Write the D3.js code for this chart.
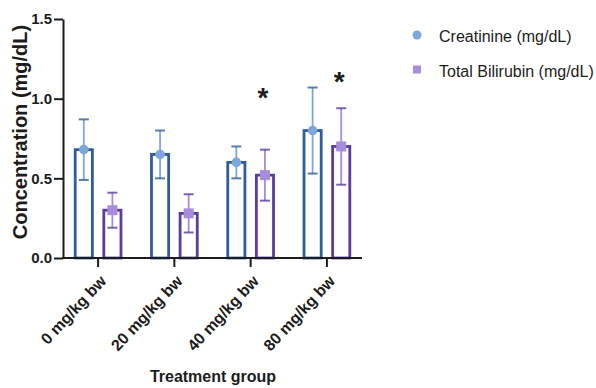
<!DOCTYPE html>
<html>
<head>
<meta charset="utf-8">
<script src="https://cdn.jsdelivr.net/npm/d3@7/dist/d3.min.js"></script>
<style>
  body { margin: 0; background: #fff; }
  svg { font-family: "Liberation Sans", Arial, Helvetica, sans-serif; }
</style>
</head>
<body>
<svg id="chart" width="596" height="388"></svg>
<script>
// data
const groups = ["0 mg/kg bw", "20 mg/kg bw", "40 mg/kg bw", "80 mg/kg bw"];
const seriesNames = ["Creatinine (mg/dL)", "Total Bilirubin (mg/dL)"];
const creatinine = [0.68, 0.65, 0.60, 0.80];
const creatinineLow = [0.49, 0.50, 0.50, 0.53];
const creatinineHigh = [0.87, 0.80, 0.70, 1.07];
const bilirubin = [0.30, 0.28, 0.52, 0.70];
const bilirubinLow = [0.19, 0.16, 0.36, 0.46];
const bilirubinHigh = [0.41, 0.40, 0.68, 0.94];
const starLevel = [null, null, 1.04, 1.14]; // significance marks over bilirubin
const yTicks = [0.0, 0.5, 1.0, 1.5];

const outline = ["#2f5d9b", "#5b3b9b"];
const fillMark = ["#7ea6d8", "#a88bdb"];
const ink = "#1c1c1c";

const svg = d3.select("#chart");
const plot = {left: 63, right: 362, top: 19, bottom: 258};

const x = d3.scaleBand()
    .domain(groups)
    .range([plot.left, plot.right])
    .paddingInner(0.4)
    .paddingOuter(0.16);
const xs = d3.scaleBand()
    .domain([0, 1])
    .range([0, x.bandwidth()])
    .paddingInner(0.4);
const y = d3.scaleLinear().domain([0, 1.5]).range([plot.bottom, plot.top]);

const series = [
    {vals: creatinine, lo: creatinineLow, hi: creatinineHigh},
    {vals: bilirubin, lo: bilirubinLow, hi: bilirubinHigh}
];

const barsG = svg.append("g");
series.forEach((s, si) => {
    groups.forEach((g, i) => {
        const bx = x(g) + xs(si);
        const bw = xs.bandwidth();
        const cx = bx + bw / 2;
        // open bar
        barsG.append("rect")
            .attr("x", bx)
            .attr("y", y(s.vals[i]))
            .attr("width", bw)
            .attr("height", y(0) - y(s.vals[i]))
            .attr("fill", "#fff")
            .attr("stroke", outline[si])
            .attr("stroke-width", 2.8);
        // error bar
        barsG.append("line")
            .attr("x1", cx).attr("x2", cx)
            .attr("y1", y(s.lo[i])).attr("y2", y(s.hi[i]))
            .attr("stroke", fillMark[si]).attr("stroke-width", 1.8);
        [s.lo[i], s.hi[i]].forEach(v => {
            barsG.append("line")
                .attr("x1", cx - 5).attr("x2", cx + 5)
                .attr("y1", y(v)).attr("y2", y(v))
                .attr("stroke", outline[si]).attr("stroke-opacity", 0.8)
                .attr("stroke-width", 2);
        });
        // marker
        if (si === 0) {
            barsG.append("circle")
                .attr("cx", cx).attr("cy", y(s.vals[i])).attr("r", 4.8)
                .attr("fill", fillMark[si]);
        } else {
            barsG.append("rect")
                .attr("x", cx - 5).attr("y", y(s.vals[i]) - 5)
                .attr("width", 10).attr("height", 10)
                .attr("fill", fillMark[si]);
        }
    });
});

// asterisks
groups.forEach((g, i) => {
    if (starLevel[i] == null) return;
    svg.append("text")
        .attr("x", x(g) + xs(1) + xs.bandwidth() / 2 - 2)
        .attr("y", y(starLevel[i]) + 15)
        .attr("text-anchor", "middle")
        .attr("font-size", 28)
        .attr("font-weight", "bold")
        .attr("fill", ink)
        .text("*");
});

// y axis
const yAxis = svg.append("g")
    .attr("transform", `translate(${plot.left},0)`)
    .call(d3.axisLeft(y).tickValues(yTicks).tickFormat(d3.format(".1f"))
        .tickSize(9).tickPadding(2).tickSizeOuter(0));
yAxis.select(".domain").attr("stroke-width", 2).attr("stroke", ink);
yAxis.selectAll(".tick line").attr("stroke-width", 2).attr("stroke", ink);
yAxis.selectAll(".tick text")
    .attr("font-size", 15).attr("font-weight", "bold")
    .attr("font-family", "Liberation Sans, Arial, sans-serif")
    .attr("fill", ink);

// x axis
const xAxis = svg.append("g")
    .attr("transform", `translate(0,${plot.bottom})`)
    .call(d3.axisBottom(x).tickSize(9).tickSizeOuter(0));
xAxis.select(".domain").attr("stroke-width", 2).attr("stroke", ink)
    .attr("d", `M${plot.left - 1},0H${plot.right}`);
xAxis.selectAll(".tick line").attr("stroke-width", 2).attr("stroke", ink);
xAxis.selectAll(".tick text")
    .attr("font-size", 16).attr("font-weight", "bold")
    .attr("font-family", "Liberation Sans, Arial, sans-serif")
    .attr("fill", ink)
    .attr("text-anchor", "end")
    .attr("y", 0)
    .attr("dy", "0.35em")
    .attr("transform", "translate(5,20) rotate(-47)");

// axis titles
svg.append("text")
    .attr("transform", `translate(27,132) rotate(-90)`)
    .attr("text-anchor", "middle")
    .attr("font-size", 20).attr("font-weight", "bold")
    .attr("fill", ink)
    .text("Concentration (mg/dL)");
svg.append("text")
    .attr("x", 213).attr("y", 382)
    .attr("text-anchor", "middle")
    .attr("font-size", 16).attr("font-weight", "bold")
    .attr("fill", ink)
    .text("Treatment group");

// legend
const legend = svg.append("g").attr("transform", "translate(417,35)");
seriesNames.forEach((name, i) => {
    const row = legend.append("g").attr("transform", `translate(0,${i * 34.5})`);
    if (i === 0) {
        row.append("circle").attr("r", 4.5).attr("fill", fillMark[i]);
    } else {
        row.append("rect").attr("x", -4).attr("y", -4).attr("width", 8).attr("height", 8).attr("fill", fillMark[i]);
    }
    row.append("text")
        .attr("x", 22).attr("y", 7)
        .attr("font-size", 16)
        .attr("fill", ink)
        .text(name);
});
</script>
</body>
</html>
